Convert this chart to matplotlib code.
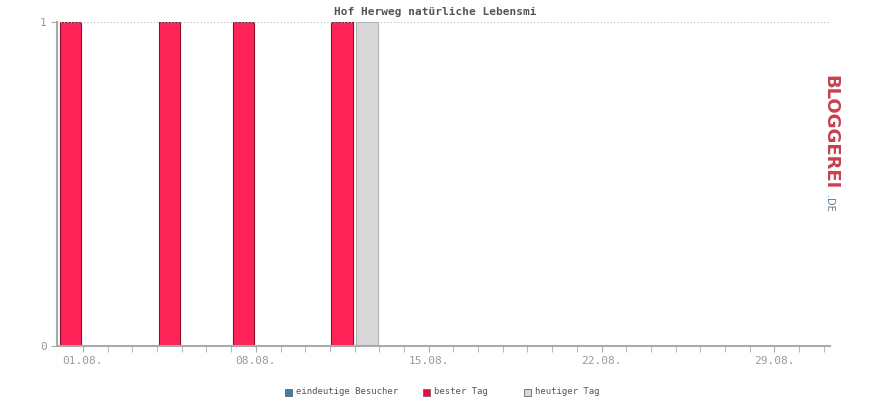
import matplotlib
matplotlib.use("Agg")
import matplotlib.pyplot as plt

days = list(range(1, 32))
best = {1: 1, 5: 1, 8: 1, 12: 1}
today = {13: 1}
tick_days = [1, 8, 15, 22, 29]
tick_labels = ["01.08.", "08.08.", "15.08.", "22.08.", "29.08."]
title = "Hof Herweg natürliche Lebensmi"

fig = plt.figure(figsize=(8.7, 4.0), dpi=100)
ax = fig.add_axes([57/870, 54/400, 773/870, 324/400])
for d, v in best.items():
    ax.bar(d - 0.5, v, width=0.88, color="#ff2458", edgecolor="#8a1030", linewidth=0.8)
for d, v in today.items():
    ax.bar(d - 0.5, v, width=0.88, color="#d8d8d8", edgecolor="#b0b0b0", linewidth=0.8)
ax.set_xlim(-0.05, 31.25)
ax.set_ylim(0, 1)
ax.axhline(1, color="#bbbbbb", linestyle=(0, (1, 2)), linewidth=0.8)
ax.set_xticks(tick_days)
ax.set_xticklabels(tick_labels, family="DejaVu Sans Mono", fontsize=8, color="#999999")
ax.set_xticks(days, minor=True)
ax.set_yticks([0, 1])
ax.set_yticklabels(["0", "1"], family="DejaVu Sans Mono", fontsize=8, color="#999999")
ax.tick_params(axis="both", which="both", color="#aaaaaa", length=4)
for s in ["top", "right"]:
    ax.spines[s].set_visible(False)
for s in ["left", "bottom"]:
    ax.spines[s].set_color("#aaaaaa")
    ax.spines[s].set_linewidth(1.5)
fig.text(0.5, 1 - 12/400, title, ha="center", va="center", family="DejaVu Sans Mono",
         fontsize=8, fontweight="bold", color="#555555")

# logo
fig.text(830/870, 1 - 132/400, "BLOGGEREI", rotation=-90, ha="center", va="center",
         fontsize=13, fontweight="bold", color="#c8404f")
fig.text(829/870, 1 - 203/400, ".DE", rotation=-90, ha="center", va="center",
         fontsize=7, color="#5a7fa0")

# legend
items = [("#3d7fb0", "eindeutige Besucher", 285), ("#ff0040", "bester Tag", 423), ("#d8d8d8", "heutiger Tag", 524)]
for c, lab, x in items:
    fig.patches.append(plt.Rectangle((x/870, 1 - 396/400), 7/870, 7/400, transform=fig.transFigure,
                                     facecolor=c, edgecolor="#666666", linewidth=0.6))
    fig.text((x + 11)/870, 1 - 392/400, lab, va="center", family="DejaVu Sans Mono",
             fontsize=6.5, color="#555555")
fig.savefig("out.png", dpi=100)
